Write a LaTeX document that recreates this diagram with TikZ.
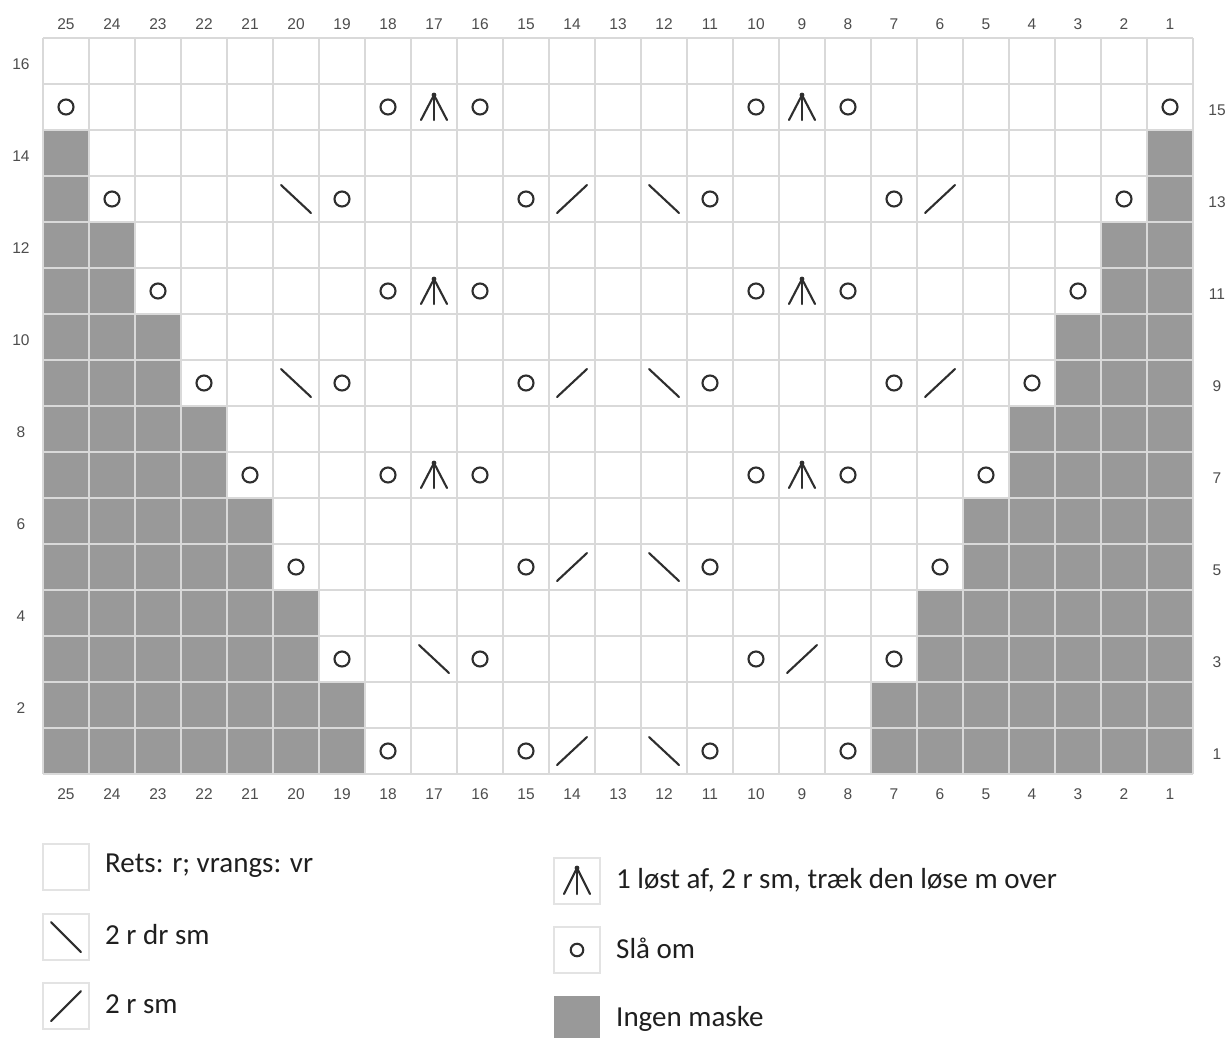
\documentclass[tikz,border=0pt]{standalone}
\usepackage{fontspec}
\setmainfont{Carlito}
\newfontfamily\labfont{Liberation Sans}
\definecolor{gridc}{HTML}{D9D9D9}
\definecolor{fillc}{HTML}{999999}
\definecolor{symc}{HTML}{2E2E2E}
\definecolor{numc}{HTML}{4D4D4D}
\definecolor{legc}{HTML}{1F1F1F}
\definecolor{boxc}{HTML}{E3E3E3}
\begin{document}
\begin{tikzpicture}[x=1pt,y=-1pt,
  gridline/.style={draw=gridc, line width=1.6pt},
  nomask/.style={fill=fillc},
  symline/.style={draw=symc, line width=2.1pt, line cap=round},
  yo/.style={draw=symc, line width=2.1pt, circle, minimum size=15pt, inner sep=0pt},
  legyo/.style={draw=symc, line width=2.1pt, circle, minimum size=12.5pt, inner sep=0pt},
  numlab/.style={font=\labfont\fontsize{15.5}{18}\selectfont, text=numc, inner sep=0pt},
  legtext/.style={font=\fontsize{29}{33}\selectfont, text=legc, anchor=west, inner sep=0pt},
  legbox/.style={draw=boxc, line width=1.4pt, fill=white, minimum width=46pt, minimum height=46pt, inner sep=0pt}
]
\useasboundingbox (0,0) rectangle (1230,1037);
\fill[white] (0,0) rectangle (1230,1037);
% gray cells
\foreach \r in {1,...,14}{
  \pgfmathtruncatemacro\k{ceil(\r/2)}
  \pgfmathsetmacro\w{46*(8-\k)}
  \pgfmathsetmacro\yt{774-46*\r}
  \pgfmathsetmacro\yb{774-46*(\r-1)}
  \fill[nomask] (43,\yt) rectangle (43+\w,\yb);
  \fill[nomask] (1193-\w,\yt) rectangle (1193,\yb);
}
% grid
\foreach \i in {0,...,25}{ \draw[gridline] (43+46*\i,38) -- (43+46*\i,774); }
\foreach \j in {0,...,16}{ \draw[gridline] (43,38+46*\j) -- (1193,38+46*\j); }
% column labels
\foreach \c in {1,...,25}{
  \pgfmathsetmacro\xc{1216-46*\c}
  \node[numlab] (ctop\c) at (\xc,24.5) {\c};
  \node[numlab] (cbot\c) at (\xc,794) {\c};
}
% row labels
\foreach \r in {2,4,...,16}{
  \pgfmathsetmacro\yc{797-46*\r+3}
  \node[numlab] (rl\r) at (21,\yc) {\r};
}
\foreach \r in {1,3,...,15}{
  \pgfmathsetmacro\yc{797-46*\r+3}
  \node[numlab] (rr\r) at (1217,\yc) {\r};
}
% yarn overs
\foreach \r/\c in {15/25,15/18,15/16,15/10,15/8,15/1,
  13/24,13/19,13/15,13/11,13/7,13/2,
  11/23,11/18,11/16,11/10,11/8,11/3,
  9/22,9/19,9/15,9/11,9/7,9/4,
  7/21,7/18,7/16,7/10,7/8,7/5,
  5/20,5/15,5/11,5/6,
  3/19,3/16,3/10,3/7,
  1/18,1/15,1/11,1/8}{
  \pgfmathsetmacro\xc{1216-46*\c}
  \pgfmathsetmacro\yc{797-46*\r}
  \node[yo] (yo-\r-\c) at (\xc,\yc) {};
}
% 2 r sm (/)
\foreach \r/\c in {13/14,13/6,9/14,9/6,5/14,3/9,1/14}{
  \pgfmathsetmacro\xc{1216-46*\c}
  \pgfmathsetmacro\yc{797-46*\r}
  \draw[symline] (\xc-15,\yc+14) -- (\xc+15,\yc-14);
}
% 2 r dr sm (\)
\foreach \r/\c in {13/20,13/12,9/20,9/12,5/12,3/17,1/12}{
  \pgfmathsetmacro\xc{1216-46*\c}
  \pgfmathsetmacro\yc{797-46*\r}
  \draw[symline] (\xc-15,\yc-14) -- (\xc+15,\yc+14);
}
% double decrease
\foreach \r/\c in {15/17,15/9,11/17,11/9,7/17,7/9}{
  \pgfmathsetmacro\xc{1216-46*\c}
  \pgfmathsetmacro\yc{797-46*\r}
  \draw[symline, line join=round] (\xc-13,\yc+13) -- (\xc,\yc-12) -- (\xc+13,\yc+13);
  \draw[symline] (\xc,\yc-12) -- (\xc,\yc+13);
  \fill[symc] (\xc,\yc-12) circle (2.4);
}
% legend left
\node[legbox] (b1) at (66,867) {};
\node[legtext] (t1) at (105,866) {Rets: r; vrangs: vr};
\node[legbox] (b2) at (66,937) {};
\draw[symline] (51,922) -- (81,952);
\node[legtext] (t2) at (105,935) {2 r dr sm};
\node[legbox] (b3) at (66,1006) {};
\draw[symline] (51,1021) -- (81,991);
\node[legtext] (t3) at (105,1004) {2 r sm};
% legend right
\node[legbox] (b4) at (577,881) {};
\draw[symline, line join=round] (564,894) -- (577,868) -- (590,894);
\draw[symline] (577,868) -- (577,894);
\fill[symc] (577,868) circle (2.4);
\node[legtext] (t4) at (616,880) {1 løst af, 2 r sm, træk den løse m over};
\node[legbox] (b5) at (577,950) {};
\node[legyo] (ly) at (577,950) {};
\node[legtext] (t5) at (616,948) {Slå om};
\node[legbox, draw=none, fill=fillc] (b6) at (577,1019) {};
\node[legtext] (t6) at (616,1019) {Ingen maske};
\end{tikzpicture}
\end{document}
